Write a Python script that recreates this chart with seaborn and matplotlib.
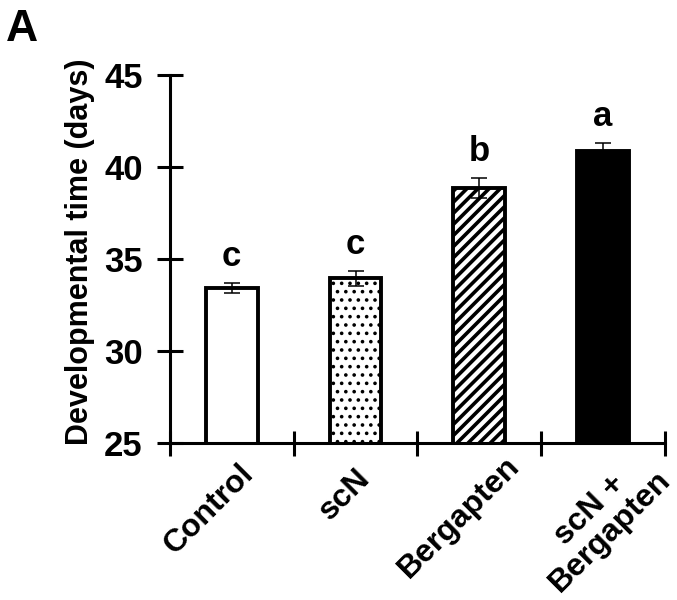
import matplotlib
matplotlib.use("Agg")
import matplotlib.pyplot as plt
import matplotlib.transforms as mtrans
import seaborn as sns
import pandas as pd
from matplotlib.ticker import FixedLocator

categories = ["Control", "scN", "Bergapten", "scN +\nBergapten"]
means = [33.42, 33.95, 38.85, 40.85]
sems = [0.25, 0.40, 0.55, 0.45]
letters = ["c", "c", "b", "a"]

sns.set_theme(style="ticks")
plt.rcParams["font.family"] = ["Liberation Sans", "DejaVu Sans"]
plt.rcParams["font.weight"] = "bold"
for k in ["text.color", "axes.labelcolor", "xtick.color", "ytick.color",
          "axes.edgecolor", "hatch.color"]:
    plt.rcParams[k] = "black"
plt.rcParams["hatch.linewidth"] = 2.6

df = pd.DataFrame({"group": categories, "days": means})

fig = plt.figure(figsize=(6.77, 6.0), dpi=100)
ax = fig.add_axes([0.251, 0.262, 0.731, 0.613])

sns.barplot(data=df, x="group", y="days", color="white", edgecolor="black",
            linewidth=2.8, width=0.42, errorbar=None, ax=ax, zorder=2)

styles = [("white", "", 1.0), ("white", "..", 1.4), ("white", "///", 2.6),
          ("black", "", 1.0)]
for patch, (fc, h, hlw) in zip(ax.patches, styles):
    patch.set_facecolor(fc)
    patch.set_hatch(h)
    patch.set_edgecolor("black")
    if hasattr(patch, "set_hatch_linewidth"):
        patch.set_hatch_linewidth(hlw)

ax.errorbar(range(len(categories)), means, yerr=sems, fmt="none", ecolor="black",
            elinewidth=1.1, capsize=6, capthick=1.1, zorder=3)

for i, (m, s, l) in enumerate(zip(means, sems, letters)):
    ax.text(i, m + s + 0.55, l, ha="center", va="bottom", fontsize=25,
            fontweight="bold")

ax.set_ylim(25, 45)
ax.set_xlim(-0.5, 3.5)
ax.set_yticks([25, 30, 35, 40, 45])
ax.set_xticks(range(len(categories)))
ax.set_xticklabels(categories, rotation=45, ha="center", va="center",
                   rotation_mode="anchor", fontsize=23, fontweight="bold",
                   linespacing=1.0, multialignment="center")
ax.xaxis.set_minor_locator(FixedLocator([-0.5, 0.5, 1.5, 2.5, 3.5]))
ax.tick_params(axis="x", which="major", length=0, pad=0)
ax.tick_params(axis="x", which="minor", direction="inout", length=18, width=2.2)
ax.tick_params(axis="y", direction="inout", length=19, width=2.2, labelsize=25,
               pad=10)
for t in ax.get_yticklabels():
    t.set_fontweight("bold")

# pixel offsets of each rotated label's centre from its category centre
label_shift = [(-23, 66), (-11, 52), (-20, 75), (-3, 78)]
for t, (dx, dy) in zip(ax.get_xticklabels(), label_shift):
    t.set_transform(t.get_transform() +
                    mtrans.ScaledTranslation(dx / 100, -dy / 100,
                                             fig.dpi_scale_trans))

ax.set_xlabel("")
ax.set_ylabel("Developmental time (days)", fontsize=22, fontweight="bold")
ax.yaxis.set_label_coords(-0.152, 0.52)

sns.despine(ax=ax)
for sp in ["left", "bottom"]:
    ax.spines[sp].set_linewidth(2.2)
    ax.spines[sp].set_color("black")

fig.text(0.008, 0.985, "A", fontsize=32, fontweight="bold", va="top", ha="left")

fig.savefig("out.png", dpi=100, facecolor="white")
